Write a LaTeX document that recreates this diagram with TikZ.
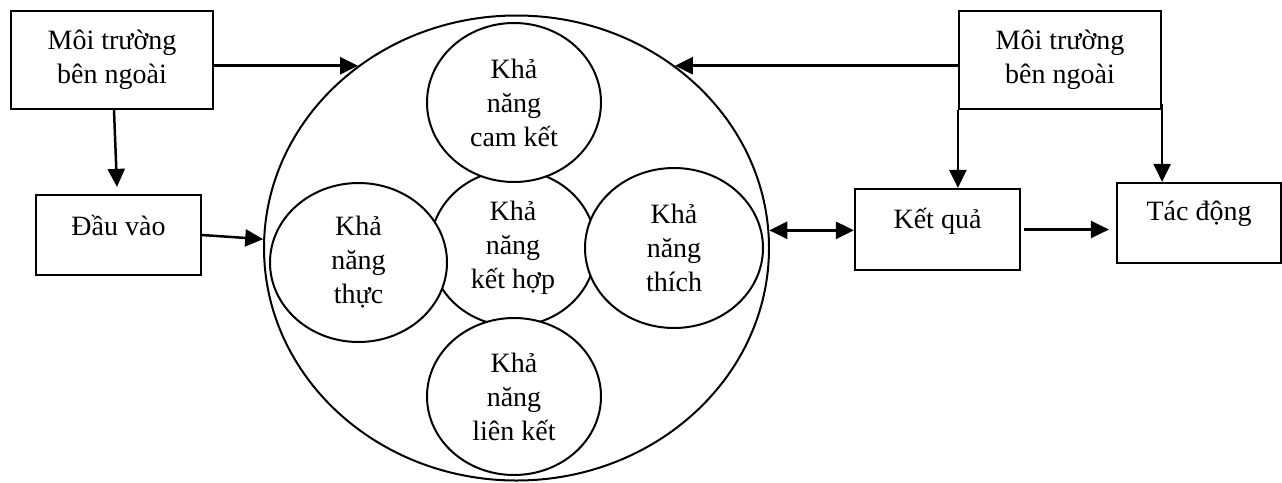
\documentclass[tikz,border=0pt]{standalone}
\usepackage{fontspec}
\setmainfont{Liberation Serif}
\usetikzlibrary{arrows.meta,shapes.geometric}

\tikzset{
  txt/.style={font=\fontsize{28}{34}\selectfont, align=center},
  box/.style={txt, draw, line width=2.2pt, inner sep=0pt},
  bubble/.style={txt, draw, ellipse, line width=2pt, inner sep=0pt, fill=white},
  arr/.style={line width=2.5pt, -{Triangle[length=18pt,width=17pt]}},
  dblarr/.style={line width=2.5pt, {Triangle[length=18pt,width=17pt]}-{Triangle[length=18pt,width=17pt]}},
}

\begin{document}
\begin{tikzpicture}[x=1pt, y=-1pt]
  \useasboundingbox (0,0) rectangle (1282,482);

  % outer ring and the five capability bubbles
  \node[bubble, fill=none, minimum width=505pt, minimum height=465pt] (big) at (516.5,248) {};
  \node[bubble, minimum width=166pt, minimum height=156pt] (mid) at (513,248) {Khả\\năng\\kết hợp};
  \node[bubble, minimum width=174pt, minimum height=159pt] (top) at (514,102.5) {Khả\\năng\\cam kết};
  \node[bubble, minimum width=177pt, minimum height=159pt] (lft) at (358.5,262.5) {Khả\\năng\\thực};
  \node[bubble, minimum width=178pt, minimum height=160pt] (rgt) at (674,248) {Khả\\năng\\thích};
  \node[bubble, minimum width=174pt, minimum height=157pt] (bot) at (514,396.5) {Khả\\năng\\liên kết};

  % rectangular boxes
  \node[box, minimum width=202pt, minimum height=98pt] (tl) at (112,60) {Môi trường\\bên ngoài};
  \node[box, minimum width=202pt, minimum height=98pt] (tr) at (1060,60) {Môi trường\\bên ngoài};
  \node[box, minimum width=165pt, text height=40pt, text depth=40pt] (dv) at (118.5,235) {Đầu vào};
  \node[box, minimum width=165pt, text height=39pt, text depth=42pt] (kq) at (937.5,229.5) {Kết quả};
  \node[box, minimum width=164pt, text height=37pt, text depth=43pt] (td) at (1199,223) {Tác động};

  % connectors
  \draw[arr] (big.131 -| tl.east) -- (big.131);
  \draw[arr] (big.49 -| tr.west) -- (big.49);
  \draw[arr] ([xshift=2pt]tl.south) -- ([xshift=-1.5pt, yshift=7pt]dv.north);
  \draw[arr] (dv.east) -- (big.178);
  \draw[dblarr] (big.4) -- (big.4 -| kq.west);
  \draw[arr, shorten <=3pt, shorten >=7pt] (kq.east) -- (kq.east -| td.west);
  \draw[arr] (tr.south west) -- (tr.south west |- kq.north);
  \draw[arr] ([yshift=6pt]tr.south east) -- (tr.south east |- td.north);
\end{tikzpicture}
\end{document}
